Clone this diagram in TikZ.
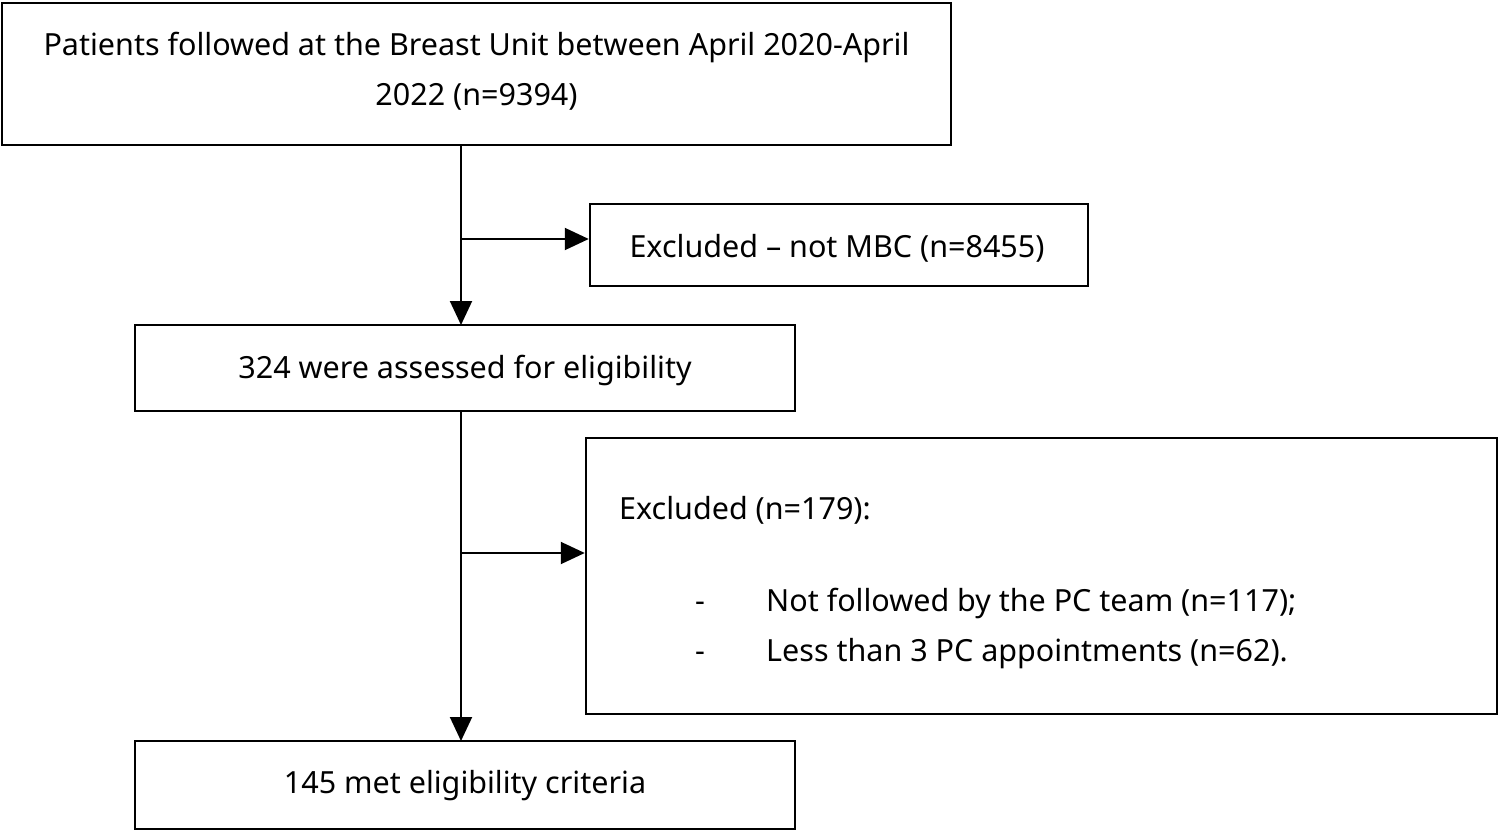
\documentclass[tikz,border=0pt]{standalone}
\usepackage{fontspec}
\setmainfont{Noto Sans}
\usetikzlibrary{arrows.meta}
\begin{document}
\begin{tikzpicture}[x=1pt,y=-1pt,
  box/.style={draw,line width=2.5pt,inner sep=0pt},
  lbl/.style={font=\fontsize{30.5}{50}\selectfont,inner sep=0pt,text height=22pt,text depth=8pt},
  conn/.style={line width=2pt,-{Triangle[length=24pt,width=22pt]}}]
\useasboundingbox (0,0) rectangle (1500,832);
\node[box,minimum width=949pt,minimum height=142pt] (b1) at (476.5,74) {};
\node[lbl] (t1a) at (476.5,49) {Patients followed at the Breast Unit between April 2020-April};
\node[lbl] (t1b) at (476.5,99) {2022 (n=9394)};
\node[box,minimum width=498pt,minimum height=82pt] (b2) at (839,245) {};
\node[lbl] (t2) at (837,250) {Excluded – not MBC (n=8455)};
\node[box,minimum width=660pt,minimum height=86pt] (b3) at (465,368) {};
\node[lbl] (t3) at (465,371) {324 were assessed for eligibility};
\node[box,minimum width=911pt,minimum height=276pt] (b4) at (1041.5,576) {};
\node[lbl,anchor=west] (t4) at (619,512) {Excluded (n=179):};
\node[lbl] (d1) at (700,604) {-};
\node[lbl] (d2) at (700,654) {-};
\node[lbl,anchor=west] (t5) at (766,604) {Not followed by the PC team (n=117);};
\node[lbl,anchor=west] (t6) at (766,654) {Less than 3 PC appointments (n=62).};
\node[box,minimum width=660pt,minimum height=88pt] (b5) at (465,785) {};
\node[lbl] (t7) at (465,786) {145 met eligibility criteria};
\coordinate (j1) at (461,239);
\coordinate (j2) at (461,553);
\draw[conn] (461,145) -- (461,325);
\draw[conn] (461,411) -- (461,741);
\draw[conn] (j1) -- (b2.west|-j1);
\draw[conn] (j2) -- (b4.west|-j2);
\end{tikzpicture}
\end{document}
